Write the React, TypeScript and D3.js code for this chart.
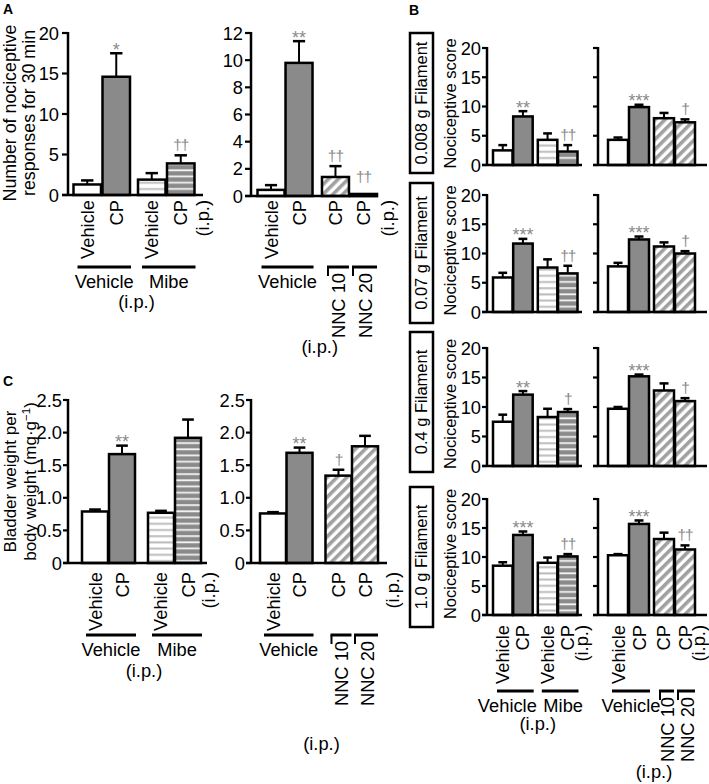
import React from "react";
import * as d3 from "d3";

type Fill = "white" | "gray" | "hLight" | "hDark" | "diag";

const FONT = "'Liberation Sans', Arial, Helvetica, sans-serif";
const MARK_COLOR = "#8a8a8a";
const LBL = 18.3;

// ---------------- data ----------------
const mibeBarLabels = ["Vehicle", "CP", "Vehicle", "CP"];
const nncBarLabels = ["Vehicle", "CP", "CP", "CP"];
const mibeFills: Fill[] = ["white", "gray", "hLight", "hDark"];
const nncFills: Fill[] = ["white", "gray", "diag", "diag"];
const mibeGroups = ["Vehicle", "Mibe"];
const nncGroups = ["Vehicle", "NNC 10", "NNC 20"];
const routeLabel = "(i.p.)";

const aTicksMibe = [0, 5, 10, 15, 20];
const aTicksNnc = [0, 2, 4, 6, 8, 10, 12];
const cTicks = [0, 0.5, 1, 1.5, 2, 2.5];
const bTicks = [0, 5, 10, 15, 20];

// Panel A (number of nociceptive responses for 30 min)
const aMibeMean = [1.3, 14.6, 1.9, 3.9];
const aMibeSem = [0.5, 2.9, 0.8, 1.0];
const aMibeMarks = ["", "*", "", "††"];
const aNncMean = [0.45, 9.8, 1.4, 0.15];
const aNncSem = [0.35, 1.6, 0.8, 0];
const aNncMarks = ["", "**", "††", "††"];

// Panel C (bladder weight per body weight)
const cMibeMean = [0.79, 1.67, 0.77, 1.92];
const cMibeSem = [0.03, 0.13, 0.03, 0.28];
const cMibeMarks = ["", "**", "", ""];
const cNncMean = [0.76, 1.69, 1.34, 1.79];
const cNncSem = [0.02, 0.08, 0.09, 0.16];
const cNncMarks = ["", "**", "†", ""];

// Panel B (nociceptive score per filament)
const filaments = ["0.008 g Filament", "0.07 g Filament", "0.4 g Filament", "1.0 g Filament"];
const bMibeMean = [
  [2.5, 8.3, 4.3, 2.3],
  [5.9, 11.7, 7.6, 6.6],
  [7.5, 12.1, 8.3, 9.15],
  [8.5, 13.8, 9.0, 10.1],
];
const bMibeSem = [
  [0.9, 0.9, 1.1, 1.1],
  [0.8, 0.8, 1.4, 1.3],
  [1.2, 0.6, 1.4, 0.5],
  [0.6, 0.6, 0.9, 0.4],
];
const bMibeMarks = [
  ["", "**", "", "††"],
  ["", "***", "", "††"],
  ["", "**", "", "†"],
  ["", "***", "", "††"],
];
const bNncMean = [
  [4.3, 9.9, 8.0, 7.3],
  [7.8, 12.4, 11.2, 10.0],
  [9.7, 15.2, 12.8, 11.0],
  [10.3, 15.7, 13.1, 11.3],
];
const bNncSem = [
  [0.4, 0.4, 0.9, 0.5],
  [0.6, 0.5, 0.7, 0.4],
  [0.3, 0.3, 1.2, 0.5],
  [0.2, 0.6, 1.1, 0.7],
];
const bNncMarks = [
  ["", "***", "", "†"],
  ["", "***", "", "†"],
  ["", "***", "", "†"],
  ["", "***", "", "††"],
];

// ---------------- layout ----------------
interface PanelSpec {
  axisX: number;
  axisEnd: number;
  y0: number;
  yTop: number;
  yMax: number;
  ticks: number[];
  tickLabels: boolean;
  fmt: (v: number) => string;
  firstLeft: number;
  lastLeft: number;
  gap: number;
  barW: number;
  tickLen: number;
  tickFont: number;
  tickPad: number;
}

const fmtInt = (v: number) => d3.format("d")(v);
const fmtDec = (v: number) => (v === 0 ? "0" : d3.format(".1f")(v));

function barScales(s: PanelSpec) {
  const y = d3.scaleLinear().domain([0, s.yMax]).range([s.y0, s.yTop]);
  const slot = d3.scaleLinear().domain([0, 2 + s.gap]).range([s.firstLeft, s.lastLeft]);
  const slots = [0, 1, 1 + s.gap, 2 + s.gap];
  const lefts = slots.map((v) => slot(v));
  return { y, lefts };
}

function fillFor(f: Fill) {
  if (f === "white") return "#ffffff";
  if (f === "gray") return "#8a8a8a";
  return `url(#${f})`;
}

function BarPanel({
  s,
  means,
  sems,
  fills,
  marks,
}: {
  s: PanelSpec;
  means: number[];
  sems: number[];
  fills: Fill[];
  marks: string[];
}) {
  const { y, lefts } = barScales(s);
  const capW = s.barW * 0.45;
  return (
    <g>
      {means.map((m, i) => {
        const x = lefts[i];
        const cx = x + s.barW / 2;
        const top = y(m + sems[i]);
        const mk = marks[i];
        const isStar = mk.includes("*");
        let markY = isStar ? top + 2.5 : top - 5;
        if (!isStar) markY = Math.min(markY, s.y0 - 14);
        return (
          <g key={i}>
            {sems[i] > 0 && (
              <line x1={cx} x2={cx} y1={y(m)} y2={top} stroke="#000" strokeWidth={2} />
            )}
            {sems[i] > 0 && (
              <line x1={cx - capW / 2} x2={cx + capW / 2} y1={top} y2={top} stroke="#000" strokeWidth={2.5} />
            )}
            <rect
              x={x}
              y={y(m)}
              width={s.barW}
              height={Math.max(0, s.y0 - y(m))}
              fill={fillFor(fills[i])}
              stroke="#000"
              strokeWidth={2.5}
            />
            {mk && (
              <text
                x={cx}
                y={markY}
                textAnchor="middle"
                fill={MARK_COLOR}
                fontSize={isStar ? 18 : 15.5}
                letterSpacing={isStar ? 0 : -1}
              >
                {mk}
              </text>
            )}
          </g>
        );
      })}
      {/* y axis */}
      <line x1={s.axisX} x2={s.axisX} y1={s.yTop - 1} y2={s.y0} stroke="#000" strokeWidth={2.5} />
      {s.ticks.map((t) => (
        <g key={t}>
          <line x1={s.axisX - s.tickLen} x2={s.axisX} y1={y(t)} y2={y(t)} stroke="#000" strokeWidth={2.2} />
          {s.tickLabels && (
            <text
              x={s.axisX - s.tickLen - s.tickPad}
              y={y(t)}
              textAnchor="end"
              dominantBaseline="central"
              fontSize={s.tickFont}
            >
              {s.fmt(t)}
            </text>
          )}
        </g>
      ))}
      {/* x axis */}
      <line x1={s.axisX - s.tickLen} x2={s.axisEnd} y1={s.y0} y2={s.y0} stroke="#000" strokeWidth={2.5} />
    </g>
  );
}

function RotLabels({
  s,
  labels,
  startOff,
  ipOff,
  font,
}: {
  s: PanelSpec;
  labels: string[];
  startOff: number;
  ipOff: number;
  font: number;
}) {
  const { lefts } = barScales(s);
  const centers = lefts.map((l) => l + s.barW / 2);
  const all = [...labels.map((t, i) => ({ t, x: centers[i] })), { t: routeLabel, x: centers[3] + ipOff }];
  return (
    <g>
      {all.map((d, i) => (
        <text
          key={i}
          transform={`translate(${d.x},${s.y0 + startOff}) rotate(-90)`}
          textAnchor="end"
          dominantBaseline="central"
          fontSize={font}
        >
          {d.t}
        </text>
      ))}
    </g>
  );
}

function MibeGroups({
  s,
  lineY,
  textY,
  ipY,
  font,
  shift = [0, 0],
}: {
  s: PanelSpec;
  lineY: number;
  textY: number;
  ipY: number;
  font: number;
  shift?: number[];
}) {
  const { lefts } = barScales(s);
  const spans = [
    [lefts[0] + 4, lefts[1] + s.barW + 1],
    [lefts[2] + 4, lefts[3] + s.barW + 1],
  ];
  const mids = spans.map((sp) => (sp[0] + sp[1]) / 2);
  return (
    <g fontSize={font}>
      {spans.map((sp, i) => (
        <g key={i}>
          <line x1={sp[0]} x2={sp[1]} y1={lineY} y2={lineY} stroke="#000" strokeWidth={3} />
          <text x={mids[i] + shift[i]} y={textY} textAnchor="middle">
            {mibeGroups[i]}
          </text>
        </g>
      ))}
      <text x={(mids[0] + mids[1]) / 2} y={ipY} textAnchor="middle">
        {routeLabel}
      </text>
    </g>
  );
}

function NncGroups({
  s,
  lineY,
  textY,
  ipY,
  font,
}: {
  s: PanelSpec;
  lineY: number;
  textY: number;
  ipY: number;
  font: number;
}) {
  const { lefts } = barScales(s);
  const vSpan = [lefts[0] + 4, lefts[1] + s.barW + 1];
  const nSpans = [
    [lefts[2] + 5, lefts[2] + s.barW],
    [lefts[3] + 2, lefts[3] + s.barW],
  ];
  const vMid = (vSpan[0] + vSpan[1]) / 2;
  const nMid = (nSpans[0][0] + nSpans[1][1]) / 2;
  return (
    <g fontSize={font}>
      <line x1={vSpan[0]} x2={vSpan[1]} y1={lineY} y2={lineY} stroke="#000" strokeWidth={3} />
      <text x={vMid} y={textY} textAnchor="middle">
        {nncGroups[0]}
      </text>
      {nSpans.map((sp, i) => (
        <g key={i}>
          <line x1={sp[0]} x2={sp[1]} y1={lineY} y2={lineY} stroke="#000" strokeWidth={3} />
          <line x1={sp[0] + 1} x2={sp[0] + 1} y1={lineY} y2={lineY + 9} stroke="#000" strokeWidth={2} />
          <text
            transform={`translate(${(sp[0] + sp[1]) / 2 + 1},${lineY + 6}) rotate(-90)`}
            textAnchor="end"
            dominantBaseline="central"
          >
            {nncGroups[i + 1]}
          </text>
        </g>
      ))}
      <text x={(vMid + nMid) / 2} y={ipY} textAnchor="middle">
        {routeLabel}
      </text>
    </g>
  );
}

// panel specs
const specAL: PanelSpec = {
  axisX: 68, axisEnd: 203, y0: 195, yTop: 33, yMax: 20, ticks: aTicksMibe, tickLabels: true, fmt: fmtInt,
  firstLeft: 73.5, lastLeft: 167, gap: 1.224, barW: 27.5, tickLen: 6, tickFont: LBL, tickPad: 3,
};
const specAR: PanelSpec = {
  axisX: 251, axisEnd: 378, y0: 196, yTop: 33, yMax: 12, ticks: aTicksNnc, tickLabels: true, fmt: fmtInt,
  firstLeft: 257.5, lastLeft: 350, gap: 1.3, barW: 27, tickLen: 6, tickFont: LBL, tickPad: 2,
};
const specCL: PanelSpec = {
  axisX: 68, axisEnd: 207, y0: 563, yTop: 400, yMax: 2.5, ticks: cTicks, tickLabels: true, fmt: fmtDec,
  firstLeft: 82, lastLeft: 175, gap: 1.444, barW: 26, tickLen: 5, tickFont: LBL, tickPad: 1,
};
const specCR: PanelSpec = {
  axisX: 251, axisEnd: 387, y0: 563, yTop: 400, yMax: 2.5, ticks: cTicks, tickLabels: true, fmt: fmtDec,
  firstLeft: 260, lastLeft: 352, gap: 1.47, barW: 26, tickLen: 5, tickFont: LBL, tickPad: 1,
};
const bTopsY = [48, 195, 348, 499];
const bZeroY = [165, 312, 466, 615];
const bBoxCenters = [103, 253, 402, 557];
const specBL = (r: number): PanelSpec => ({
  axisX: 487, axisEnd: 582, y0: bZeroY[r], yTop: bTopsY[r], yMax: 20, ticks: bTicks, tickLabels: true, fmt: fmtInt,
  firstLeft: 493, lastLeft: 558, gap: 1.22, barW: 19.5, tickLen: 5, tickFont: LBL, tickPad: 1,
});
const specBR = (r: number): PanelSpec => ({
  axisX: 598, axisEnd: 707, y0: bZeroY[r], yTop: bTopsY[r], yMax: 20, ticks: bTicks, tickLabels: false, fmt: fmtInt,
  firstLeft: 608, lastLeft: 675, gap: 1.19, barW: 20, tickLen: 5, tickFont: LBL, tickPad: 1,
});

const TITLE = 17.8;
const CTITLE = 17;
// baseline offset so a -90deg rotated line is visually centred on x
const rotBase = (cx: number, fs: number) => cx + fs * 0.35;

export default function App() {
  const cMid = (400 + 563) / 2;
  const aMid = (33 + 195) / 2 - 1;
  return (
    <svg
      width={709}
      height={784}
      viewBox="0 0 709 784"
      style={{ position: "absolute", left: 0, top: 0, background: "#fff" }}
      fontFamily={FONT}
      fill="#000"
    >
      <defs>
        <pattern id="hLight" patternUnits="userSpaceOnUse" width={8} height={6.2}>
          <rect width={8} height={6.2} fill="#fff" />
          <rect y={2} width={8} height={2} fill="#bdbdbd" />
        </pattern>
        <pattern id="hDark" patternUnits="userSpaceOnUse" width={8} height={6.2}>
          <rect width={8} height={6.2} fill="#8a8a8a" />
          <rect y={2} width={8} height={1.8} fill="#f2f2f2" />
        </pattern>
        <pattern id="diag" patternUnits="userSpaceOnUse" width={7} height={7} patternTransform="rotate(45)">
          <rect width={7} height={7} fill="#fff" />
          <rect width={3.6} height={7} fill="#a0a0a0" />
        </pattern>
      </defs>
      <rect width={709} height={784} fill="#fff" />

      {/* panel letters */}
      <text x={3} y={14} fontSize={14} fontWeight="bold">A</text>
      <text x={409} y={15} fontSize={14} fontWeight="bold">B</text>
      <text x={3} y={386} fontSize={14} fontWeight="bold">C</text>

      {/* ---- Panel A ---- */}
      <g fontSize={TITLE}>
        <text transform={`translate(${rotBase(10, TITLE)},${aMid}) rotate(-90)`} textAnchor="middle">
          Number of nociceptive
        </text>
        <text transform={`translate(${rotBase(28.5, TITLE)},${aMid}) rotate(-90)`} textAnchor="middle">
          responses for 30 min
        </text>
      </g>
      <BarPanel s={specAL} means={aMibeMean} sems={aMibeSem} fills={mibeFills} marks={aMibeMarks} />
      <RotLabels s={specAL} labels={mibeBarLabels} startOff={5} ipOff={22} font={LBL} />
      <MibeGroups s={specAL} lineY={267} textY={288} ipY={308} font={LBL} />

      <BarPanel s={specAR} means={aNncMean} sems={aNncSem} fills={nncFills} marks={aNncMarks} />
      <RotLabels s={specAR} labels={nncBarLabels} startOff={4} ipOff={24} font={LBL} />
      <NncGroups s={specAR} lineY={267} textY={288} ipY={353} font={LBL} />

      {/* ---- Panel C ---- */}
      <g fontSize={CTITLE}>
        <text transform={`translate(${rotBase(10, CTITLE)},${cMid}) rotate(-90)`} textAnchor="middle">
          Bladder weight per
        </text>
        <text transform={`translate(${rotBase(30, CTITLE)},${cMid}) rotate(-90)`} textAnchor="middle">
          body weight (mg·g<tspan dy={-6} fontSize={11.5}>−1</tspan><tspan dy={6}>)</tspan>
        </text>
      </g>
      <BarPanel s={specCL} means={cMibeMean} sems={cMibeSem} fills={mibeFills} marks={cMibeMarks} />
      <RotLabels s={specCL} labels={mibeBarLabels} startOff={9} ipOff={20} font={LBL} />
      <MibeGroups s={specCL} lineY={635} textY={656} ipY={677} font={LBL} />

      <BarPanel s={specCR} means={cNncMean} sems={cNncSem} fills={nncFills} marks={cNncMarks} />
      <RotLabels s={specCR} labels={nncBarLabels} startOff={9} ipOff={27} font={LBL} />
      <NncGroups s={specCR} lineY={635} textY={656} ipY={750} font={LBL} />

      {/* ---- Panel B ---- */}
      {filaments.map((f, r) => (
        <g key={f}>
          <rect x={410} y={bBoxCenters[r] - 70} width={23} height={140} fill="none" stroke="#000" strokeWidth={2.5} />
          <text
            transform={`translate(${rotBase(421.5, 16.5)},${bBoxCenters[r]}) rotate(-90)`}
            textAnchor="middle"
            fontSize={16.5}
          >
            {f}
          </text>
          <text
            transform={`translate(${rotBase(450, 16.5)},${(bTopsY[r] + bZeroY[r]) / 2 - 3}) rotate(-90)`}
            textAnchor="middle"
            fontSize={16.5}
          >
            Nociceptive score
          </text>
          <BarPanel s={specBL(r)} means={bMibeMean[r]} sems={bMibeSem[r]} fills={mibeFills} marks={bMibeMarks[r]} />
          <BarPanel s={specBR(r)} means={bNncMean[r]} sems={bNncSem[r]} fills={nncFills} marks={bNncMarks[r]} />
        </g>
      ))}
      <RotLabels s={specBL(3)} labels={mibeBarLabels} startOff={10} ipOff={14} font={LBL} />
      <MibeGroups s={specBL(3)} lineY={691} textY={712} ipY={730} font={LBL} shift={[-8, 3]} />
      <RotLabels s={specBR(3)} labels={nncBarLabels} startOff={10} ipOff={13} font={LBL} />
      <NncGroups s={specBR(3)} lineY={691} textY={712} ipY={778} font={LBL} />
    </svg>
  );
}
